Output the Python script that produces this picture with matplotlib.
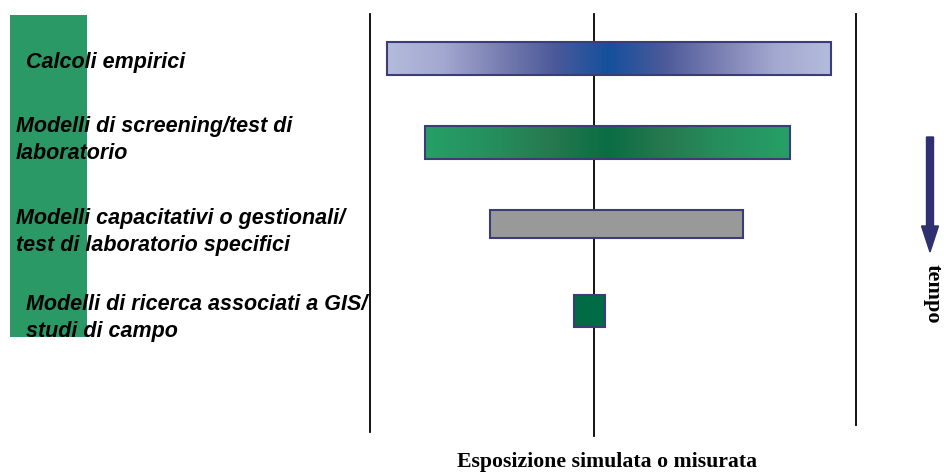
import numpy as np
import matplotlib.pyplot as plt
from matplotlib.colors import LinearSegmentedColormap
from matplotlib.patches import Rectangle, FancyArrow

# methods, top to bottom
labels = [
    "Calcoli empirici",
    "Modelli di screening/test di\nlaboratorio",
    "Modelli capacitativi o gestionali/\ntest di laboratorio specifici",
    "Modelli di ricerca associati a GIS/\nstudi di campo",
]
# exposure range covered by each method (horizontal extent)
range_lo = [387, 425, 490, 574]
range_hi = [831, 790, 743, 605]

# bar fills: gradient stops from centre to ends, or a flat colour
fills = [
    [(0.0, "#15509c"), (0.25, "#4d5a9a"), (0.5, "#7b80b3"), (0.75, "#a2a8cf"), (1.0, "#b4bcdc")],
    [(0.0, "#0a6d43"), (0.3, "#27784f"), (0.6, "#258d5d"), (1.0, "#27a067")],
    "#999999",
    "#006b45",
]

fig = plt.figure(figsize=(9.45, 4.74), dpi=100)
ax = fig.add_axes([0, 0, 1, 1])
ax.set_xlim(0, 945)
ax.set_ylim(474, 0)
ax.axis("off")

# green band behind the labels
ax.add_patch(Rectangle((10, 15), 77, 322, color="#2a9966", lw=0, zorder=0))

# reference lines
ax.plot([370, 370], [14, 432], color="black", lw=1.3, zorder=1)
ax.plot([594, 594], [14, 436], color="black", lw=1.3, zorder=1)
ax.plot([856, 856], [14, 425], color="black", lw=1.3, zorder=1)

bar_top = [42, 126, 210, 295]
bar_h = [33, 33, 28, 32]
label_x = [26, 16, 16, 26]
label_y = [62, 140, 232, 318]

for i, lab in enumerate(labels):
    x0, x1 = range_lo[i], range_hi[i]
    y0, y1 = bar_top[i], bar_top[i] + bar_h[i]
    f = fills[i]
    if isinstance(f, list):
        cmap = LinearSegmentedColormap.from_list("g%d" % i, f)
        grad = np.abs(np.linspace(-1, 1, 400))[None, :]
        ax.imshow(grad, cmap=cmap, aspect="auto", extent=(x0, x1, y1, y0),
                  interpolation="bilinear", zorder=2)
        ax.add_patch(Rectangle((x0, y0), x1 - x0, y1 - y0, fill=False,
                               ec="#3c3d78", lw=1.5, zorder=3))
    else:
        ax.add_patch(Rectangle((x0, y0), x1 - x0, y1 - y0, fc=f,
                               ec="#3c3d78", lw=1.5, zorder=3))
    ax.text(label_x[i], label_y[i], lab, fontsize=15.5, fontweight="bold",
            fontstyle="italic", family="Liberation Sans", va="center",
            ha="left", linespacing=1.38, zorder=4)

# time arrow
ax.add_patch(FancyArrow(930, 137, 0, 115, width=7, head_width=17,
                        head_length=26, length_includes_head=True,
                        color="#2e3070", zorder=3))
ax.text(933, 294, "tempo", rotation=-90, fontsize=16, fontweight="bold",
        family="Liberation Serif", ha="center", va="center")

ax.text(607, 462, "Esposizione simulata o misurata", fontsize=15.7,
        fontweight="bold", family="Liberation Serif", ha="center", va="center")

fig.savefig("out.png", dpi=100)
